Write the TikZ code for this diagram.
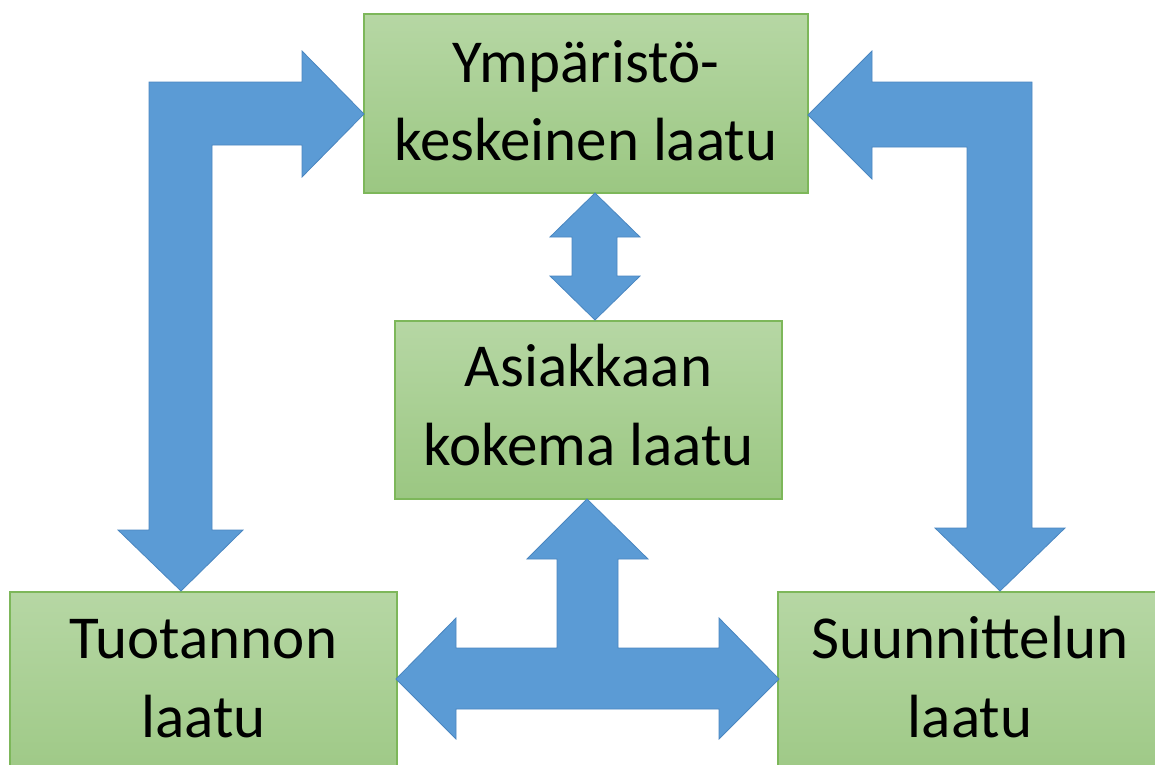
\documentclass[tikz,border=0pt]{standalone}
\usepackage{fontspec}
\setmainfont{Carlito}
\definecolor{arrowblue}{HTML}{5B9BD5}
\definecolor{arrowedge}{HTML}{4A86C0}
\definecolor{boxedge}{HTML}{7DB75A}
\definecolor{boxtop}{HTML}{B6D7A4}
\definecolor{boxbot}{HTML}{9BC782}
\begin{document}
\begin{tikzpicture}[x=1pt,y=-1pt,
  box/.style={draw=boxedge, line width=2pt, top color=boxtop, bottom color=boxbot, inner sep=0pt},
  lbl/.style={anchor=base, font=\fontsize{61}{74}\selectfont, inner sep=0pt},
  blockarrow/.style={fill=arrowblue, draw=arrowedge, line width=0.8pt, line join=miter}]
\useasboundingbox (0,0) rectangle (1155,764);
% boxes
\node[box, minimum width=444pt, minimum height=179pt] (env) at (586,103.5) {};
\node[box, minimum width=387pt, minimum height=178pt] (cust) at (588.5,410) {};
\node[box, minimum width=387pt, minimum height=208pt] (prod) at (203.5,696) {};
\node[box, minimum width=384pt, minimum height=208pt] (design) at (970,696) {};
% labels
\node[lbl] (env1) at (586,82) {Ympäristö-};
\node[lbl] (env2) at (586,160) {keskeinen laatu};
\node[lbl] (cust1) at (588.5,386) {Asiakkaan};
\node[lbl] (cust2) at (588.5,465) {kokema laatu};
\node[lbl] (prod1) at (203.5,658) {Tuotannon};
\node[lbl] (prod2) at (203.5,737) {laatu};
\node[lbl] (design1) at (970,658) {Suunnittelun};
\node[lbl] (design2) at (970,737) {laatu};
% left bent arrow (prod <-> env)
\path[blockarrow] (149,82) -- (302,82) -- (302,51) -- (364,114) -- (302,177) -- (302,145)
  -- (212,145) -- (212,530) -- (243,530) -- (181,591) -- (118,530) -- (149,530) -- cycle;
% right bent arrow (design <-> env)
\path[blockarrow] (1032,82) -- (872,82) -- (872,51) -- (808,115) -- (872,179) -- (872,147)
  -- (967,147) -- (967,528) -- (935,528) -- (1000,591) -- (1065,528) -- (1032,528) -- cycle;
% vertical double arrow (env <-> cust)
\path[blockarrow] (595,193) -- (640,237) -- (617,237) -- (617,276) -- (640,276) -- (595,320)
  -- (550,276) -- (572,276) -- (572,237) -- (550,237) -- cycle;
% T arrow (cust, prod, design)
\path[blockarrow] (587,499) -- (648,559) -- (618,559) -- (618,648) -- (719,648) -- (719,618)
  -- (779,679) -- (719,739) -- (719,709) -- (456,709) -- (456,739) -- (396,679) -- (456,618)
  -- (456,648) -- (557,648) -- (557,559) -- (527,559) -- cycle;
\end{tikzpicture}
\end{document}
